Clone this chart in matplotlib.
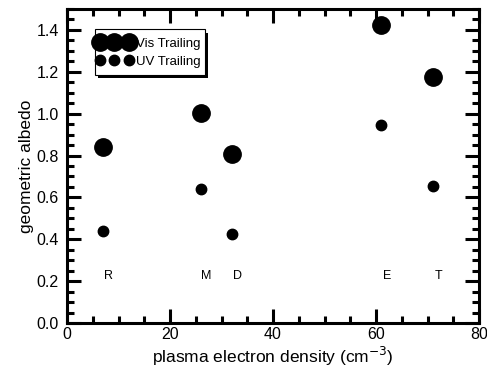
import matplotlib
matplotlib.use("Agg")
import matplotlib.pyplot as plt
from matplotlib.ticker import MultipleLocator, FormatStrFormatter
from matplotlib.patches import Rectangle

plt.rcParams['font.family'] = ['Liberation Sans', 'DejaVu Sans']

bodies = ["R", "M", "D", "E", "T"]
density = [7, 26, 32, 61, 71]
vis_albedo = [0.84, 1.005, 0.805, 1.425, 1.175]
uv_albedo = [0.44, 0.64, 0.425, 0.945, 0.655]
label_y = 0.225

fig = plt.figure(figsize=(4.87, 3.74), dpi=100)
ax = fig.add_axes([0.1376, 0.1364, 0.846, 0.8396])

ax.plot(density, vis_albedo, 'o', color='black', markersize=12.5,
        linestyle='none', label='Vis Trailing')
ax.plot(density, uv_albedo, 'o', color='black', markersize=7.5,
        linestyle='none', label='UV Trailing')

for name, x in zip(bodies, density):
    ax.annotate(name, (x, label_y), xytext=(4, 0), textcoords='offset points',
                ha='center', va='center', fontsize=9)

ax.set_xlim(0, 80)
ax.set_ylim(0, 1.5)
ax.xaxis.set_major_locator(MultipleLocator(20))
ax.xaxis.set_minor_locator(MultipleLocator(5))
ax.yaxis.set_major_locator(MultipleLocator(0.2))
ax.yaxis.set_minor_locator(MultipleLocator(0.05))
ax.yaxis.set_major_formatter(FormatStrFormatter('%.1f'))

ax.tick_params(which='both', direction='in', top=True, right=True,
               width=2.2, labelsize=11.5)
ax.tick_params(which='major', length=10)
ax.tick_params(which='minor', length=5)
ax.tick_params(axis='x', which='major', pad=3)
ax.tick_params(axis='y', which='major', pad=6)
for s in ax.spines.values():
    s.set_linewidth(2.2)

ax.set_xlabel('plasma electron density (cm$^{-3}$)', fontsize=12.5, labelpad=2)
ax.set_ylabel('geometric albedo', fontsize=12.5, labelpad=2)

# legend box with drop shadow
box_x, box_y, box_w, box_h = 0.068, 0.790, 0.267, 0.146
shadow = Rectangle((box_x + 0.008, box_y - 0.011), box_w, box_h,
                   transform=ax.transAxes, facecolor='black',
                   edgecolor='none', zorder=4)
frame = Rectangle((box_x, box_y), box_w, box_h, transform=ax.transAxes,
                  facecolor='white', edgecolor='black', linewidth=0.8,
                  zorder=5)
ax.add_patch(shadow)
ax.add_patch(frame)

leg = ax.legend(loc='upper left', bbox_to_anchor=(0.07, 0.908), numpoints=3,
                handlelength=2.78, handletextpad=0.27, fontsize=9.5,
                frameon=False, borderpad=0, labelspacing=0.4,
                borderaxespad=0)
leg.set_zorder(6)

fig.savefig('out.png', dpi=100)
